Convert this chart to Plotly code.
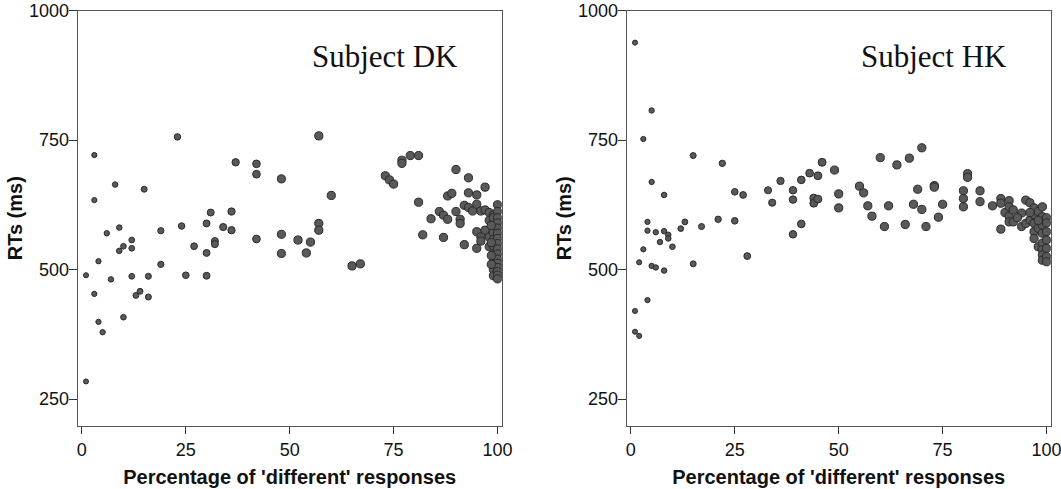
import plotly.graph_objects as go

# Subject DK: percentage of 'different' responses vs RT (ms)
dk_pct = [1, 1, 3, 3, 3, 4, 4, 5, 6, 7, 8, 9, 9, 10, 10, 12, 12, 12, 13, 14, 15, 16, 16,
          19, 19, 23, 24, 25, 27, 30, 30, 30, 31, 32, 32, 34, 36, 36, 37, 42, 42, 42,
          48, 48, 48, 52, 54, 55, 57, 57, 57, 60, 65, 67, 73, 74, 75, 77, 77, 79, 81,
          81, 82, 84, 86, 87, 87, 88, 88, 89, 90, 90, 91, 91, 92, 92, 93, 93, 93, 94,
          95, 95, 95, 95, 96, 96, 96, 97, 97, 97, 98, 98, 98, 98, 99, 99,
          99, 99, 99, 99, 99, 99, 99, 99, 99,
          100, 100, 100, 100, 100, 100, 100, 100, 100, 100, 100, 100, 100, 100, 100, 100,
          98.5, 98.5, 98.5, 98.5]
dk_rt = [489, 284, 721, 634, 453, 516, 399, 379, 570, 481, 664, 581, 536, 545, 408, 557,
         541, 487, 450, 458, 655, 487, 447, 575, 510, 756, 584, 489, 545, 589, 532, 488,
         610, 555, 549, 582, 612, 576, 707, 704, 684, 559, 675, 568, 531, 557, 532, 553,
         758, 589, 576, 643, 507, 511, 681, 673, 665, 711, 705, 720, 720, 630, 567, 598,
         612, 605, 562, 597, 642, 647, 693, 612, 597, 589, 624, 548, 677, 648, 620, 613,
         644, 626, 573, 541, 613, 563, 555, 659, 615, 576, 610, 595, 563, 544, 605, 590,
         600, 585, 572, 558, 545, 530, 515, 500, 488,
         625, 612, 600, 590, 580, 570, 560, 550, 540, 530, 520, 512, 504, 496, 489, 482,
         585, 552, 527, 510]

# Subject HK
hk_pct = [1, 1, 1, 2, 2, 3, 3, 4, 4, 4, 5, 5, 5, 6, 6, 7, 8, 8, 8, 9, 9, 10, 12, 13,
          15, 15, 17, 21, 22, 25, 25, 27, 28, 33, 34, 36, 39, 39, 39, 41, 41, 43, 44, 44,
          45, 45, 46, 49, 50, 50, 55, 56, 57, 58, 60, 61, 62, 64, 66, 67, 68, 69, 70, 70,
          71, 73, 73, 74, 75, 80, 80, 80, 81, 81, 84, 84, 87, 89, 89, 89, 90, 91, 91, 91,
          91, 92, 94, 94, 95, 95, 96, 96, 97, 97, 97, 97, 97, 98, 98, 98, 99, 99, 99, 99,
          99, 99, 99, 99, 100, 100, 100, 100, 100, 100, 100, 98, 96, 93, 92]
hk_rt = [938, 420, 380, 372, 514, 752, 539, 441, 592, 575, 807, 669, 507, 572, 504, 553,
         644, 574, 498, 567, 560, 544, 579, 592, 720, 511, 583, 597, 705, 650, 594, 644,
         526, 653, 629, 671, 653, 635, 568, 673, 588, 686, 638, 628, 681, 636, 707, 692,
         646, 619, 661, 648, 623, 603, 716, 583, 623, 702, 587, 715, 626, 655, 735, 616,
         583, 662, 659, 601, 626, 652, 637, 621, 685, 678, 652, 631, 623, 637, 628, 578,
         610, 633, 621, 603, 592, 592, 609, 583, 634, 589, 629, 596, 619, 606, 589, 573,
         560, 612, 580, 544, 621, 602, 586, 570, 551, 538, 528, 518, 573, 557, 541, 525,
         515, 600, 590, 595, 610, 600, 615]

x_ticks = [0, 25, 50, 75, 100]
y_ticks = [250, 500, 750, 1000]
subjects = ["Subject DK", "Subject HK"]
x_title = "Percentage of 'different' responses"
y_title = "RTs (ms)"


def msize(xs):
    return [5 + 3.2 * min(v, 50) / 50 for v in xs]


marker_style = dict(color="#595959", opacity=1, line=dict(color="#2a2a2a", width=1))

fig = go.Figure()
fig.add_trace(go.Scatter(x=dk_pct, y=dk_rt, mode="markers", xaxis="x", yaxis="y",
                         marker=dict(size=msize(dk_pct), **marker_style), showlegend=False))
fig.add_trace(go.Scatter(x=hk_pct, y=hk_rt, mode="markers", xaxis="x2", yaxis="y2",
                         marker=dict(size=msize(hk_pct), **marker_style), showlegend=False))

W, H = 1061, 489
tickfont = dict(family="Liberation Sans, Arial, sans-serif", size=18, color="#111")
titlefont = dict(family="Liberation Sans, Arial, sans-serif", size=20, color="#111")

ydom = [1 - 426 / H, 1 - 10.5 / H]
xdoms = [[77.7 / W, 501.7 / W], [626.7 / W, 1050.7 / W]]

common_x = dict(range=[-1, 101], tickvals=x_ticks, ticks="outside", ticklen=7, tickcolor="#333",
                showline=True, mirror=True, linecolor="#555", linewidth=1, showgrid=False,
                zeroline=False, tickfont=tickfont, ticklabelstandoff=0, automargin=False,
                ticklabeloverflow="allow",
                title=dict(text="<b>" + x_title + "</b>", font=titlefont, standoff=11))
common_y = dict(range=[198, 1000], tickvals=y_ticks, ticks="outside", ticklen=8, tickcolor="#333",
                showline=True, mirror=True, linecolor="#555", linewidth=1, showgrid=False,
                zeroline=False, tickfont=tickfont, ticklabelstandoff=-4, automargin=False,
                ticklabeloverflow="allow",
                title=dict(text="<b>" + y_title + "</b>", font=titlefont, standoff=1))

fig.update_layout(
    width=W, height=H,
    margin=dict(l=0, r=0, t=0, b=0, autoexpand=False),
    paper_bgcolor="white", plot_bgcolor="white",
    xaxis=dict(domain=xdoms[0], anchor="y", **common_x),
    yaxis=dict(domain=ydom, anchor="x", **common_y),
    xaxis2=dict(domain=xdoms[1], anchor="y2", **common_x),
    yaxis2=dict(domain=ydom, anchor="x2", **common_y),
)

for i, name in enumerate(subjects):
    sfx = "" if i == 0 else "2"
    fig.add_annotation(text=name, xref="x" + sfx, yref="y" + sfx, x=55, y=912,
                       xanchor="left", yanchor="middle", showarrow=False,
                       font=dict(family="Liberation Serif, Times New Roman, serif", size=31,
                                 color="#111"))

fig.write_html("out.html", config={"displayModeBar": False},
               post_script="document.body.style.margin='0';document.body.style.overflow='hidden';")
